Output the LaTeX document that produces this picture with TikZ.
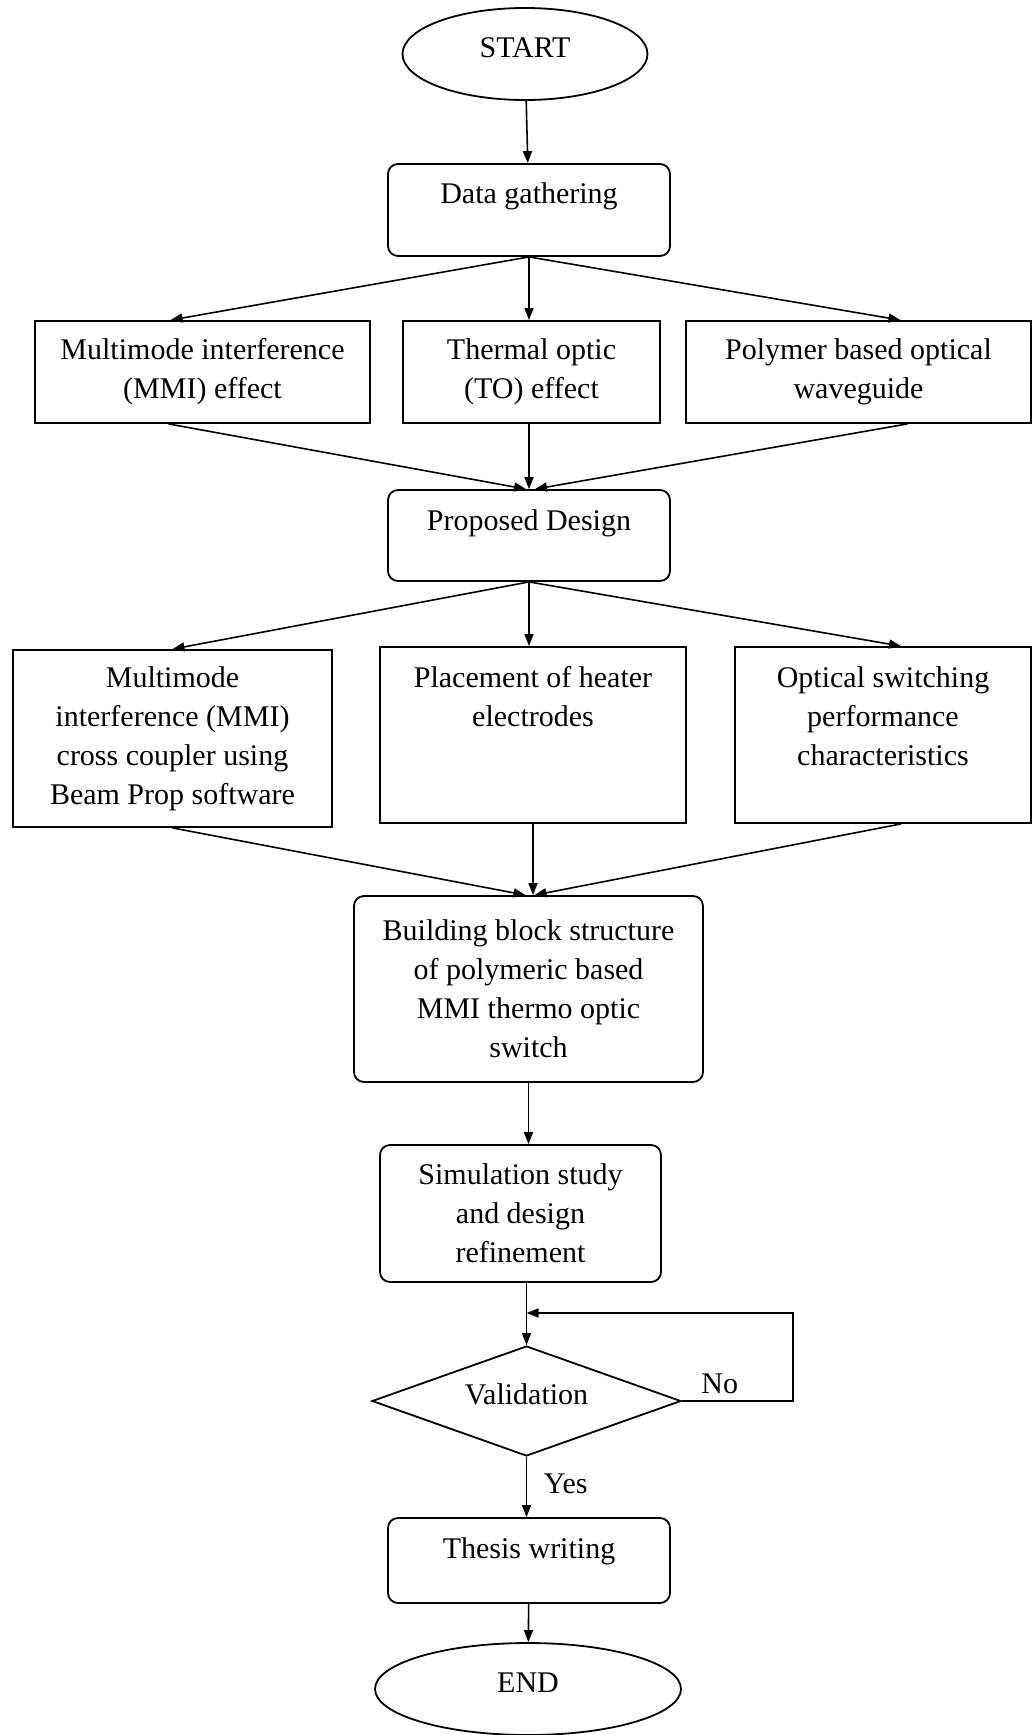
\documentclass[tikz,border=0pt]{standalone}
\usepackage{fontspec}
\setmainfont{Liberation Serif}
\usetikzlibrary{shapes.geometric,arrows.meta}

\begin{document}
\begin{tikzpicture}[x=0.5pt,y=-0.5pt,
  every node/.style={font=\fontsize{15}{19.5}\selectfont},
  box/.style={draw=black,line width=0.9pt,inner sep=0pt,align=center},
  rbox/.style={box,rounded corners=5pt},
  term/.style={draw=black,line width=0.9pt,ellipse,inner sep=0pt,text height=10pt,text depth=7pt},
  arr/.style={-{Triangle[length=6pt,width=4.5pt]},line width=0.8pt}]
\useasboundingbox (0,0) rectangle (1032,1735);
\node [term,minimum width=122.5pt,minimum height=46pt] (start) at (525,54) {START};
\node [rbox,minimum width=141pt,text height=19.5pt,text depth=26.5pt] (data) at (529,210) {Data gathering};
\node [box,minimum width=167.5pt,minimum height=51pt] (mmi) at (202.5,372) {Multimode interference\\(MMI) effect};
\node [box,minimum width=128.5pt,minimum height=51pt] (tho) at (531.5,372) {Thermal optic\\(TO) effect};
\node [box,minimum width=172.5pt,minimum height=51pt] (poly) at (858.5,372) {Polymer based optical\\waveguide};
\node [rbox,minimum width=141pt,text height=20pt,text depth=25.5pt] (prop) at (529,535.5) {Proposed Design};
\node [box,minimum width=159.5pt,minimum height=88.5pt] (mmic) at (172.5,738.5) {Multimode\\interference (MMI)\\cross coupler using\\Beam Prop software};
\node [box,minimum width=153pt,text height=39.5pt,text depth=48.5pt] (heat) at (533,735) {Placement of heater\\electrodes};
\node [box,minimum width=148pt,text height=59pt,text depth=29pt] (perf) at (883,735) {Optical switching\\performance\\characteristics};
\node [rbox,minimum width=174.5pt,minimum height=93pt] (build) at (528.5,989) {Building block structure\\of polymeric based\\MMI thermo optic\\switch};
\node [rbox,minimum width=140.5pt,minimum height=68.5pt] (sim) at (520.5,1213.5) {Simulation study\\and design\\refinement};
\node [draw=black,line width=0.9pt,diamond,aspect=2.8,minimum width=154.5pt,minimum height=55pt,inner sep=0pt,text height=10.5pt,text depth=7pt] (valid) at (526.5,1401) {Validation};
\node [rbox,minimum width=141pt,text height=20pt,text depth=22.5pt] (thesis) at (529,1560.5) {Thesis writing};
\node [term,minimum width=153pt,minimum height=46pt] (finish) at (528,1689) {END};
\coordinate (back) at (793,1313);
\draw [arr] (start) -- (data);
\draw [arr] (data.south) -- ([xshift=-16pt]mmi.north);
\draw [arr] (data.south) -- (data.south |- tho.north);
\draw [arr] (data.south) -- ([xshift=21pt]poly.north);
\draw [arr] ([xshift=-17pt]mmi.south) -- ([xshift=-1.5pt]prop.north);
\draw [arr] (prop.north |- tho.south) -- (prop.north);
\draw [arr] ([xshift=24.5pt]poly.south) -- ([xshift=3pt]prop.north);
\draw [arr] (prop.south) -- (mmic.north);
\draw [arr] (prop.south) -- (prop.south |- heat.north);
\draw [arr] (prop.south) -- ([xshift=9pt]perf.north);
\draw [arr] (mmic.south) -- ([xshift=-1.5pt]build.north);
\draw [arr] (heat.south) -- (heat.south |- build.north);
\draw [arr] ([xshift=9pt]perf.south) -- ([xshift=3pt]build.north);
\draw [arr] (build.south) -- (build.south |- sim.north);
\draw [arr] (valid.north |- sim.south) -- (valid.north);
\draw [arr] (valid.east) -| node [pos=0.17,above] {No} (back) -- (back -| valid.north);
\draw [arr] (valid.south) -- node [pos=0.44,right=5pt] {Yes} (valid.south |- thesis.north);
\draw [arr] (thesis) -- (finish);
\end{tikzpicture}
\end{document}
